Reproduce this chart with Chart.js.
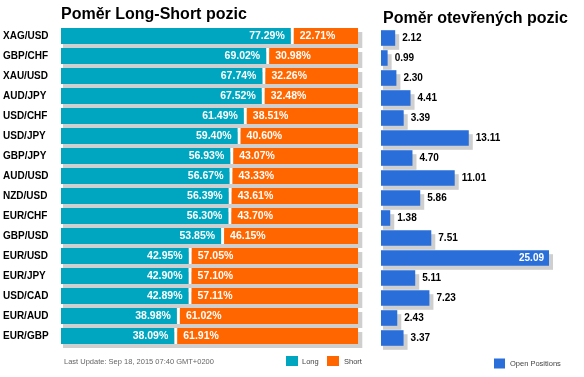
<!DOCTYPE html>
<html><head><meta charset="utf-8">
<script src="https://cdn.jsdelivr.net/npm/chart.js@4.4.1/dist/chart.umd.min.js"></script>
<style>
html,body{margin:0;padding:0;background:#fff;width:584px;height:377px;overflow:hidden}
canvas{position:absolute;top:0}
#c1{left:0}
#c2{left:372px}
</style></head><body>
<canvas id="c1" width="372" height="377"></canvas>
<canvas id="c2" width="212" height="377"></canvas>
<script>
const categories = ['XAG/USD','GBP/CHF','XAU/USD','AUD/JPY','USD/CHF','USD/JPY','GBP/JPY','AUD/USD','NZD/USD','EUR/CHF','GBP/USD','EUR/USD','EUR/JPY','USD/CAD','EUR/AUD','EUR/GBP'];
const longPct = [77.29,69.02,67.74,67.52,61.49,59.40,56.93,56.67,56.39,56.30,53.85,42.95,42.90,42.89,38.98,38.09];
const shortPct = [22.71,30.98,32.26,32.48,38.51,40.60,43.07,43.33,43.61,43.70,46.15,57.05,57.10,57.11,61.02,61.91];
const openPositions = [2.12,0.99,2.30,4.41,3.39,13.11,4.70,11.01,5.86,1.38,7.51,25.09,5.11,7.23,2.43,3.37];
const leftTitle = 'Poměr Long-Short pozic';
const rightTitle = 'Poměr otevřených pozic';
const footerText = 'Last Update: Sep 18, 2015 07:40 GMT+0200';
const legendLong = 'Long';
const legendShort = 'Short';
const legendOpen = 'Open Positions';

const COL_LONG = '#00a6bf', COL_SHORT = '#ff6600', COL_OPEN = '#2a6fd9', COL_SHADOW = '#cfcfcf';
const FONT = '"Liberation Sans", Arial, sans-serif';
Chart.defaults.font.family = FONT;
Chart.defaults.animation = false;

function fmt2(v){ return v.toFixed(2); }

const leftPlugin = {
  id: 'leftExtras',
  beforeDatasetsDraw(chart){
    const ctx = chart.ctx, m0 = chart.getDatasetMeta(0), m1 = chart.getDatasetMeta(1);
    ctx.save(); ctx.fillStyle = COL_SHADOW;
    m0.data.forEach((b, i) => {
      const e = m1.data[i];
      const top = b.y - b.height / 2;
      const x0 = Math.min(b.base, b.x), x1 = Math.max(e.base, e.x);
      ctx.fillRect(x0 + 2, top + 4, (x1 + 4) - (x0 + 2), b.height);
    });
    ctx.restore();
  },
  afterDatasetsDraw(chart){
    const ctx = chart.ctx, m0 = chart.getDatasetMeta(0), m1 = chart.getDatasetMeta(1);
    ctx.save();
    ctx.font = 'bold 10.5px ' + FONT; ctx.fillStyle = '#fff'; ctx.textBaseline = 'middle';
    m0.data.forEach((b, i) => {
      const e = m1.data[i];
      ctx.textAlign = 'right';
      ctx.fillText(fmt2(longPct[i]) + '%', b.x - 6, b.y + 0.5);
      ctx.textAlign = 'left';
      ctx.fillText(fmt2(shortPct[i]) + '%', e.base + 9, e.y + 0.5);
    });
    ctx.restore();
  },
  afterDraw(chart){
    const ctx = chart.ctx;
    ctx.save();
    ctx.fillStyle = '#000'; ctx.font = 'bold 16px ' + FONT; ctx.textAlign = 'left'; ctx.textBaseline = 'alphabetic';
    ctx.fillText(leftTitle, 61, 19);
    ctx.font = '7.5px ' + FONT; ctx.fillStyle = '#666'; ctx.textBaseline = 'middle';
    ctx.fillText(footerText, 64, 361.5);
    ctx.fillStyle = COL_LONG; ctx.fillRect(286, 356, 12, 10);
    ctx.fillStyle = COL_SHORT; ctx.fillRect(327, 356, 12, 10);
    ctx.fillStyle = '#444';
    ctx.fillText(legendLong, 302, 361.5);
    ctx.fillText(legendShort, 344, 361.5);
    ctx.restore();
  }
};

new Chart(document.getElementById('c1'), {
  type: 'bar',
  data: {
    labels: categories,
    datasets: [
      { label: legendLong, data: longPct, backgroundColor: COL_LONG, borderWidth: 0, categoryPercentage: 1, barPercentage: 0.8 },
      { label: legendShort, data: shortPct, backgroundColor: COL_SHORT, borderColor: '#fff',
        borderWidth: {left: 3, top: 0, right: 0, bottom: 0}, borderSkipped: false, categoryPercentage: 1, barPercentage: 0.8 }
    ]
  },
  options: {
    responsive: false,
    indexAxis: 'y',
    layout: { padding: { left: 3, top: 26, bottom: 31, right: 13.7 } },
    plugins: { legend: { display: false }, tooltip: { enabled: false }, title: { display: false } },
    scales: {
      x: { display: false, stacked: true, min: 0, max: 100 },
      y: {
        stacked: true,
        grid: { display: false, drawTicks: false },
        border: { display: false },
        ticks: { crossAlign: 'far', padding: 0, color: '#000', font: { size: 10, weight: 'bold', family: FONT } },
        afterFit(scale){ scale.width = 58; }
      }
    }
  },
  plugins: [leftPlugin]
});

const rightPlugin = {
  id: 'rightExtras',
  beforeDatasetsDraw(chart){
    const ctx = chart.ctx, m = chart.getDatasetMeta(0);
    ctx.save(); ctx.fillStyle = COL_SHADOW;
    m.data.forEach(b => {
      const top = b.y - b.height / 2;
      ctx.fillRect(b.base + 2, top + 4, (b.x + 4) - (b.base + 2), b.height);
    });
    ctx.restore();
  },
  afterDatasetsDraw(chart){
    const ctx = chart.ctx, m = chart.getDatasetMeta(0);
    ctx.save();
    ctx.font = 'bold 10px ' + FONT; ctx.textBaseline = 'middle';
    m.data.forEach((b, i) => {
      const t = fmt2(openPositions[i]);
      const w = ctx.measureText(t).width;
      if (b.x + 7 + w > chart.chartArea.right + 5) {
        ctx.fillStyle = '#fff'; ctx.textAlign = 'right';
        ctx.fillText(t, b.x - 5, b.y + 0.5);
      } else {
        ctx.fillStyle = '#000'; ctx.textAlign = 'left';
        ctx.fillText(t, b.x + 7, b.y + 0.5);
      }
    });
    ctx.restore();
  },
  afterDraw(chart){
    const ctx = chart.ctx;
    ctx.save();
    ctx.fillStyle = '#000'; ctx.font = 'bold 16px ' + FONT; ctx.textAlign = 'left'; ctx.textBaseline = 'alphabetic';
    ctx.fillText(rightTitle, 11, 23);
    ctx.fillStyle = COL_OPEN; ctx.fillRect(122, 358.5, 11, 10);
    ctx.font = '7.5px ' + FONT; ctx.fillStyle = '#444'; ctx.textBaseline = 'middle';
    ctx.fillText(legendOpen, 138, 364);
    ctx.restore();
  }
};

new Chart(document.getElementById('c2'), {
  type: 'bar',
  data: {
    labels: categories,
    datasets: [
      { label: legendOpen, data: openPositions, backgroundColor: COL_OPEN, borderWidth: 0, categoryPercentage: 1, barPercentage: 0.78 }
    ]
  },
  options: {
    responsive: false,
    indexAxis: 'y',
    layout: { padding: { left: 9, top: 28, bottom: 29, right: 35 } },
    plugins: { legend: { display: false }, tooltip: { enabled: false }, title: { display: false } },
    scales: {
      x: { display: false, min: 0, max: Math.max(...openPositions) },
      y: { display: false }
    }
  },
  plugins: [rightPlugin]
});
</script>
</body></html>
